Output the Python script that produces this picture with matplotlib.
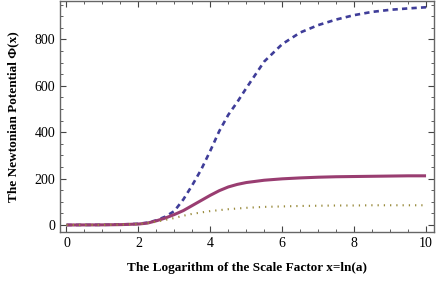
import numpy as np
import matplotlib
matplotlib.use('Agg')
import matplotlib.pyplot as plt
from matplotlib.ticker import MultipleLocator

# values
x_vals = [0, 1, 1.5, 2, 2.25, 2.5, 2.75, 3, 3.25, 3.5, 3.75, 4, 4.25, 4.5, 4.75,
          5, 5.5, 6, 6.5, 7, 7.5, 8, 8.5, 9, 9.5, 10]
phi_dashed = [0, 0.5, 2, 5, 10, 20, 36, 60, 110, 172, 240, 320, 405, 475, 530,
              590, 705, 780, 830, 862, 886, 905, 919, 928, 934, 939]
phi_solid = [0, 0.5, 1.5, 4, 8, 18, 30, 45, 62, 84, 106, 128, 148, 164, 175,
             183, 193, 199, 203, 206, 208, 209, 210, 211, 212, 212]
phi_dotted = [0, 0.5, 1.5, 4, 8, 14, 22, 30, 40, 48, 54, 60, 64, 68, 71,
              74, 78, 80, 82, 83, 84, 84, 85, 85, 85, 85]

plt.rcParams['font.family'] = 'Liberation Serif'

fig = plt.figure(figsize=(4.36, 2.85), dpi=100)
ax = fig.add_axes([60 / 436, 1 - 231.7 / 285, 374.3 / 436, 230.7 / 285])

ax.plot(x_vals, phi_dashed, color=(0.2472, 0.24, 0.6), lw=1.9, ls=(0, (2.0, 1.6)))
ax.plot(x_vals, phi_solid, color=(0.6, 0.24, 0.4429), lw=2.2, solid_capstyle='butt')
ax.plot(x_vals, phi_dotted, color=(0.6, 0.547, 0.24), lw=1.5, ls=(0, (0.6, 2.4)))

ax.set_xlim(-0.18, 10.23)
ax.set_ylim(-29, 966)

ax.xaxis.set_major_locator(MultipleLocator(2))
ax.xaxis.set_minor_locator(MultipleLocator(0.5))
ax.yaxis.set_major_locator(MultipleLocator(200))
ax.yaxis.set_minor_locator(MultipleLocator(50))
ax.tick_params(which='both', direction='in', top=True, right=True,
               color='#444444', labelsize=10)
ax.tick_params(which='major', length=4, width=0.8)
ax.tick_params(which='minor', length=2, width=0.6)
for s in ax.spines.values():
    s.set_color('#666666')
    s.set_linewidth(1.0)

ax.set_xlabel('The Logarithm of the Scale Factor x=ln(a)', fontsize=9.5,
              fontweight='bold', labelpad=9)
ax.set_ylabel('The Newtonian Potential \u03a6(x)', fontsize=9.5,
              fontweight='bold', labelpad=11)

plt.savefig('out.png', dpi=100)
